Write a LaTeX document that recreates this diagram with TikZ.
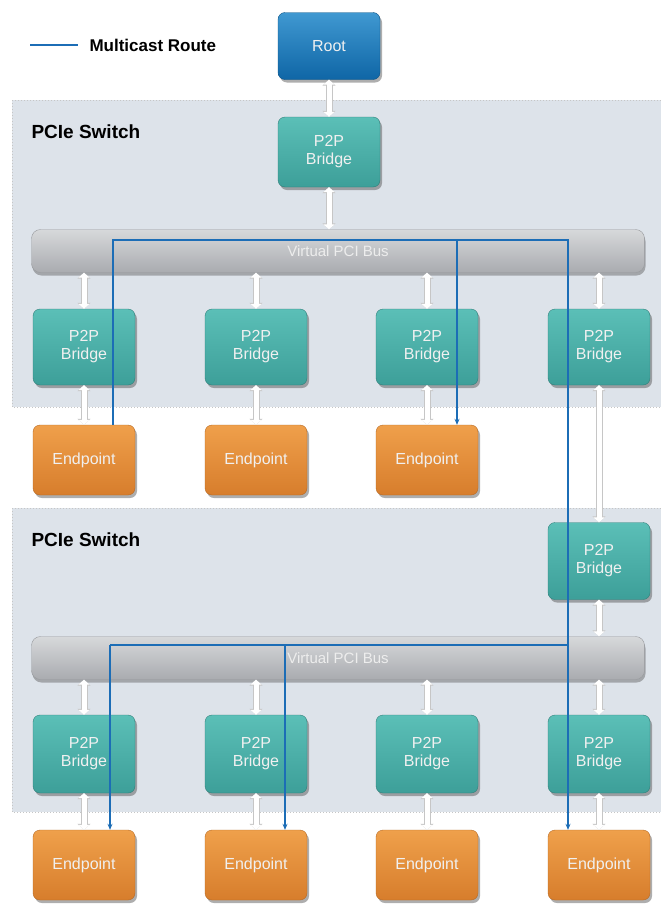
\documentclass[tikz,border=0pt]{standalone}
\usepackage{fontspec}
\setmainfont{Liberation Sans}
\usetikzlibrary{positioning,arrows.meta,shadows}

\definecolor{rootblue}{HTML}{1E86C9}
\definecolor{rootdark}{HTML}{0F66A6}
\definecolor{bridgeteal}{HTML}{5BBFB7}
\definecolor{bridgedark}{HTML}{3D9F99}
\definecolor{eporange}{HTML}{EFA04B}
\definecolor{epdark}{HTML}{D77D2C}
\definecolor{switchgray}{HTML}{DDE3EA}
\definecolor{busgray}{HTML}{CDCFD2}
\definecolor{busdark}{HTML}{A9ABAF}
\definecolor{routeblue}{HTML}{1C6DB6}

\begin{document}
\begin{tikzpicture}[
  x=1pt, y=-1pt,
  box/.style={rounded corners=7pt, minimum width=102pt, align=center, text=white!94!black,
    font=\fontsize{16}{18}\selectfont,
    drop shadow={shadow xshift=2pt, shadow yshift=-3pt, opacity=0.45, fill=black!70}},
  rootbox/.style={box, minimum height=67pt, top color=rootblue!85!white, bottom color=rootdark, draw=rootdark!80!black},
  bridge/.style={box, minimum height=76pt, top color=bridgeteal, bottom color=bridgedark, draw=bridgedark!80!black},
  endpt/.style={box, minimum height=70pt, top color=eporange, bottom color=epdark, draw=epdark!85!black},
  bus/.style={rounded corners=9pt, minimum width=613pt, minimum height=43pt, text=white!93!black,
    top color=busgray!80!white, bottom color=busdark, draw=busdark!90!black,
    font=\fontsize{15}{17}\selectfont,
    drop shadow={shadow xshift=1pt, shadow yshift=-3pt, opacity=0.4, fill=black!70}},
  switchbg/.style={fill=switchgray, draw=gray!45, dotted, line width=1pt},
  title/.style={anchor=west, font=\fontsize{19}{21}\selectfont\bfseries},
  link/.style={white, line width=5pt, {Triangle[length=5pt,width=11pt]}-{Triangle[length=5pt,width=11pt]},
    preaction={draw=gray!45, line width=7pt, arrows={Triangle[length=6pt,width=13pt]-Triangle[length=6pt,width=13pt]}}},
  route/.style={draw=routeblue, line width=1.6pt},
  tip/.style={-{Stealth[length=6pt,width=5pt]}}
]
  \useasboundingbox (0,0) rectangle (661,905);
  \fill[white] (0,0) rectangle (661,905);

  % switch areas
  \draw[switchbg] (12,100) rectangle (661,407);
  \draw[switchbg] (12,508) rectangle (661,812);
  \node[title] (sw1) at (28,132) {PCIe Switch};
  \node[title] (sw2) at (28,540) {PCIe Switch};

  % legend
  \coordinate (lega) at (30,45);
  \coordinate (legb) at (78,45);
  \draw[route, line width=2pt] (lega) -- (legb);
  \node[anchor=west, font=\fontsize{17}{19}\selectfont\bfseries] (legtext) at (86,45) {Multicast Route};

  % upper switch
  \node[rootbox] (root) at (329,46) {Root};
  \node[bridge, minimum height=70pt] (up) at (329,152) {P2P\\Bridge};
  \node[bus] (bus1) at (338,251) {Virtual PCI Bus};
  \foreach \i/\x in {1/84,2/256,3/427,4/599}
    \node[bridge] (b1\i) at (\x,347) {P2P\\Bridge};
  \foreach \i/\x in {1/84,2/256,3/427}
    \node[endpt] (ep1\i) at (\x,460) {Endpoint};

  % lower switch
  \node[bridge, minimum height=77pt] (down) at (599,561) {P2P\\Bridge};
  \node[bus] (bus2) at (338,658) {Virtual PCI Bus};
  \foreach \i/\x in {1/84,2/256,3/427,4/599}
    \node[bridge, minimum height=78pt] (b2\i) at (\x,754) {P2P\\Bridge};
  \foreach \i/\x in {1/84,2/256,3/427,4/599}
    \node[endpt] (ep2\i) at (\x,865) {Endpoint};

  % links
  \draw[link] (root.south) -- (up.north);
  \draw[link] (up.south) -- (up.south |- bus1.north);
  \draw[link] (b14.south) -- (down.north);
  \draw[link] (down.south) -- (down.south |- bus2.north);
  \foreach \i in {1,2,3,4} {
    \draw[link] (b1\i.north |- bus1.south) -- (b1\i.north);
    \draw[link] (b2\i.north |- bus2.south) -- (b2\i.north);
    \draw[link] (b2\i.south) -- (ep2\i.north);
  }
  \foreach \i in {1,2,3}
    \draw[link] (b1\i.south) -- (ep1\i.north);

  % multicast route
  \coordinate (r1w) at (113,240);
  \coordinate (r1m) at (457,240);
  \coordinate (r1e) at (568,240);
  \coordinate (r2w) at (110,645);
  \coordinate (r2m) at (285,645);
  \coordinate (r2e) at (568,645);
  \draw[route, tip] (ep11.north -| r1w) -- (r1w) -- (r1e) -- (r1e |- ep24.north);
  \draw[route, tip] (r1m) -- (r1m |- ep13.north);
  \draw[route] (r2e) -- (r2w);
  \draw[route, tip] (r2w) -- (r2w |- ep21.north);
  \draw[route, tip] (r2m) -- (r2m |- ep22.north);
\end{tikzpicture}
\end{document}
